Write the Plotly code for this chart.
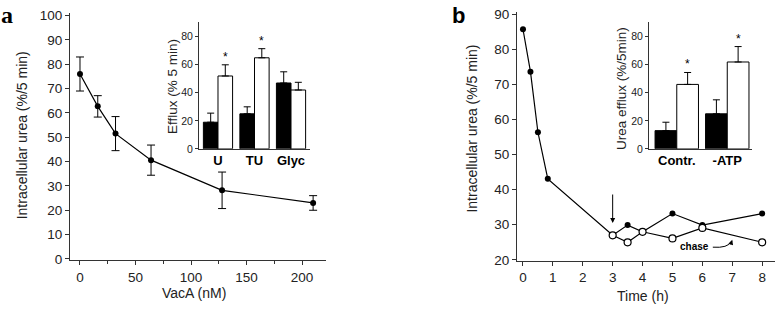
import plotly.graph_objects as go

W, H = 776, 320

# ---------------- data ----------------
# Panel a main: intracellular urea vs VacA
vaca_nM = [0, 16, 32, 64, 128, 210]
urea_a = [76, 62.7, 51.5, 40.6, 28.2, 23]
urea_a_err = [7, 4.4, 7, 6.2, 7.5, 3]

# Panel a inset: efflux bars
inset_a_cats = ["U", "TU", "Glyc"]
inset_a_black = [19, 25, 47]
inset_a_black_err = [6.5, 5, 8]
inset_a_white = [52, 65, 42]
inset_a_white_err = [8, 6.5, 5.5]
inset_a_star = [True, True, False]

# Panel b main: time course
time_filled = [0, 0.25, 0.5, 0.83, 3, 3.5, 4, 5, 6, 8]
urea_filled = [85.8, 73.7, 56.4, 43.1, 27, 29.9, 28, 33.2, 29.9, 33.2]
time_open = [3, 3.5, 4, 5, 6, 8]
urea_open = [27, 25, 28, 26.1, 29.1, 25]

# Panel b inset: urea efflux bars
inset_b_cats = ["Contr.", "-ATP"]
inset_b_black = [13, 25]
inset_b_black_err = [6, 10]
inset_b_white = [46, 62]
inset_b_white_err = [8.5, 11]
inset_b_star = [True, True]

# ---------------- helpers ----------------
def px_x(p):
    return p / W

def px_y(p):
    return 1 - p / H

AX = "#333333"
TXT = "#222222"
FONT = "Liberation Sans, Arial, sans-serif"

fig = go.Figure()

# Panel a main line
fig.add_trace(go.Scatter(
    x=vaca_nM, y=urea_a, mode="lines+markers",
    line=dict(color="black", width=1.2),
    marker=dict(color="black", size=6),
    error_y=dict(type="data", array=urea_a_err, color="black", thickness=1, width=4),
    xaxis="x", yaxis="y", showlegend=False,
))

# Inset a bars
idx_a = list(range(len(inset_a_cats)))
fig.add_trace(go.Bar(
    x=idx_a, y=inset_a_black, width=0.4, offset=-0.4,
    marker=dict(color="black", line=dict(color="black", width=1)),
    error_y=dict(type="data", array=inset_a_black_err, arrayminus=[0] * 3,
                 symmetric=False, color="black", thickness=1, width=3.5),
    xaxis="x2", yaxis="y2", showlegend=False,
))
fig.add_trace(go.Bar(
    x=idx_a, y=inset_a_white, width=0.4, offset=0,
    marker=dict(color="white", line=dict(color="black", width=1)),
    error_y=dict(type="data", array=inset_a_white_err, arrayminus=[0] * 3,
                 symmetric=False, color="black", thickness=1, width=3.5),
    xaxis="x2", yaxis="y2", showlegend=False,
))

# Panel b main lines
fig.add_trace(go.Scatter(
    x=time_filled, y=urea_filled, mode="lines+markers",
    line=dict(color="black", width=1.2),
    marker=dict(color="black", size=6),
    xaxis="x3", yaxis="y3", showlegend=False,
))
fig.add_trace(go.Scatter(
    x=time_open, y=urea_open, mode="lines+markers",
    line=dict(color="black", width=1.2),
    marker=dict(color="white", size=7, line=dict(color="black", width=1.2)),
    xaxis="x3", yaxis="y3", showlegend=False,
))

# Inset b bars
idx_b = list(range(len(inset_b_cats)))
fig.add_trace(go.Bar(
    x=idx_b, y=inset_b_black, width=0.43, offset=-0.43,
    marker=dict(color="black", line=dict(color="black", width=1)),
    error_y=dict(type="data", array=inset_b_black_err, arrayminus=[0] * 2,
                 symmetric=False, color="black", thickness=1, width=3.5),
    xaxis="x4", yaxis="y4", showlegend=False,
))
fig.add_trace(go.Bar(
    x=idx_b, y=inset_b_white, width=0.43, offset=0,
    marker=dict(color="white", line=dict(color="black", width=1)),
    error_y=dict(type="data", array=inset_b_white_err, arrayminus=[0] * 2,
                 symmetric=False, color="black", thickness=1, width=3.5),
    xaxis="x4", yaxis="y4", showlegend=False,
))

tickfont_main = dict(family=FONT, size=13.5, color=TXT)
tickfont_inset = dict(family=FONT, size=10.5, color=TXT)
catfont = dict(family=FONT, size=13, color="black")

common = dict(showline=True, linecolor=AX, linewidth=1, showgrid=False, zeroline=False,
              ticks="outside", tickcolor=AX, ticklen=4, tickwidth=1)

fig.update_layout(
    width=W, height=H,
    margin=dict(l=0, r=0, t=0, b=0),
    paper_bgcolor="white", plot_bgcolor="rgba(0,0,0,0)",
    barmode="overlay",
    font=dict(family=FONT, color=TXT),
    xaxis=dict(domain=[px_x(70), px_x(326)], range=[-9, 221.6],
               tickvals=[0, 50, 100, 150, 200], tickfont=tickfont_main,
               minor=dict(dtick=25, ticks="outside", ticklen=3, tickcolor=AX),
               anchor="y", **common),
    yaxis=dict(domain=[px_y(265.5), px_y(9)], range=[-0.6, 101.2],
               tickvals=list(range(0, 101, 10)), tickfont=tickfont_main,
               anchor="x", **common),
    xaxis2=dict(domain=[px_x(199), px_x(310)], range=[-0.52, 2.52],
                tickvals=idx_a, ticktext=["<b>%s</b>" % c for c in inset_a_cats],
                tickfont=catfont, anchor="y2",
                showline=True, linecolor=AX, linewidth=1, showgrid=False, zeroline=False,
                ticks=""),
    yaxis2=dict(domain=[px_y(150), px_y(19)], range=[0, 90.3],
                tickvals=[0, 20, 40, 60, 80], tickfont=tickfont_inset, anchor="x2",
                showline=True, linecolor=AX, linewidth=1, showgrid=False, zeroline=False,
                ticks="outside", ticklen=3, tickcolor=AX),
    xaxis3=dict(domain=[px_x(517), px_x(775)], range=[-0.2, 8.43],
                tickvals=list(range(0, 9)), tickfont=tickfont_main, anchor="y3", **common),
    yaxis3=dict(domain=[px_y(266), px_y(8)], range=[19.7, 90.8],
                tickvals=list(range(20, 91, 10)), tickfont=tickfont_main, anchor="x3", **common),
    xaxis4=dict(domain=[px_x(649), px_x(752)], range=[-0.55, 1.49],
                tickvals=idx_b, ticktext=["<b>%s</b>" % c for c in inset_b_cats],
                tickfont=catfont, anchor="y4",
                showline=True, linecolor=AX, linewidth=1, showgrid=False, zeroline=False,
                ticks=""),
    yaxis4=dict(domain=[px_y(150), px_y(19)], range=[0, 90.3],
                tickvals=[0, 20, 40, 60, 80], tickfont=tickfont_inset, anchor="x4",
                showline=True, linecolor=AX, linewidth=1, showgrid=False, zeroline=False,
                ticks="outside", ticklen=3, tickcolor=AX),
)

ann = []
# axis titles
def title(text, x, y, size, angle=0):
    ann.append(dict(text=text, x=px_x(x), y=px_y(y), xref="paper", yref="paper",
                    xanchor="center", yanchor="middle", showarrow=False, textangle=angle,
                    font=dict(family=FONT, size=size, color=TXT)))

title("Intracellular urea (%/5 min)", 22, 136, 14, -90)
title("VacA (nM)", 194, 299, 14)
title("Efflux (% 5 min)", 172, 86, 13.5, -90)
title("Intracellular urea (%/5 min)", 472, 129, 14, -90)
title("Time (h)", 643, 302, 14)
title("Urea efflux (%/5min)", 622, 88, 13.5, -90)

# panel letters
ann.append(dict(text="<b>a</b>", x=px_x(7), y=px_y(11), xref="paper", yref="paper",
                xanchor="center", yanchor="middle", showarrow=False,
                font=dict(family="Liberation Serif, serif", size=24, color="black")))
ann.append(dict(text="<b>b</b>", x=px_x(458), y=px_y(12), xref="paper", yref="paper",
                xanchor="center", yanchor="middle", showarrow=False,
                font=dict(family=FONT, size=22, color="black")))

# significance stars
for i, s in enumerate(inset_a_star):
    if s:
        ann.append(dict(text="*", x=i + 0.2, y=inset_a_white[i] + inset_a_white_err[i],
                        xref="x2", yref="y2", yanchor="bottom", showarrow=False,
                        font=dict(family=FONT, size=12, color="black"), yshift=-1))
for i, s in enumerate(inset_b_star):
    if s:
        ann.append(dict(text="*", x=i + 0.215, y=inset_b_white[i] + inset_b_white_err[i],
                        xref="x4", yref="y4", yanchor="bottom", showarrow=False,
                        font=dict(family=FONT, size=12, color="black"), yshift=-1))

# arrow at chase start
ann.append(dict(text="", x=3, y=30.5, xref="x3", yref="y3", ax=0, ay=-30,
                showarrow=True, arrowhead=2, arrowsize=1, arrowwidth=1, arrowcolor="black"))
# chase label
ann.append(dict(text="<b>chase</b>", x=5.75, y=23.9, xref="x3", yref="y3", showarrow=False,
                font=dict(family=FONT, size=10, color="black")))
# arrowhead of curved chase arrow
ann.append(dict(text="", x=7.0, y=25.7, xref="x3", yref="y3", ax=-2, ay=6,
                showarrow=True, arrowhead=2, arrowsize=1, arrowwidth=1, arrowcolor="black"))

fig.update_layout(annotations=ann)
fig.add_shape(type="path", path="M 6.35,23.6 Q 6.85,23.3 6.97,25.2",
              xref="x3", yref="y3", line=dict(color="black", width=1))

fig.write_html("out.html")
